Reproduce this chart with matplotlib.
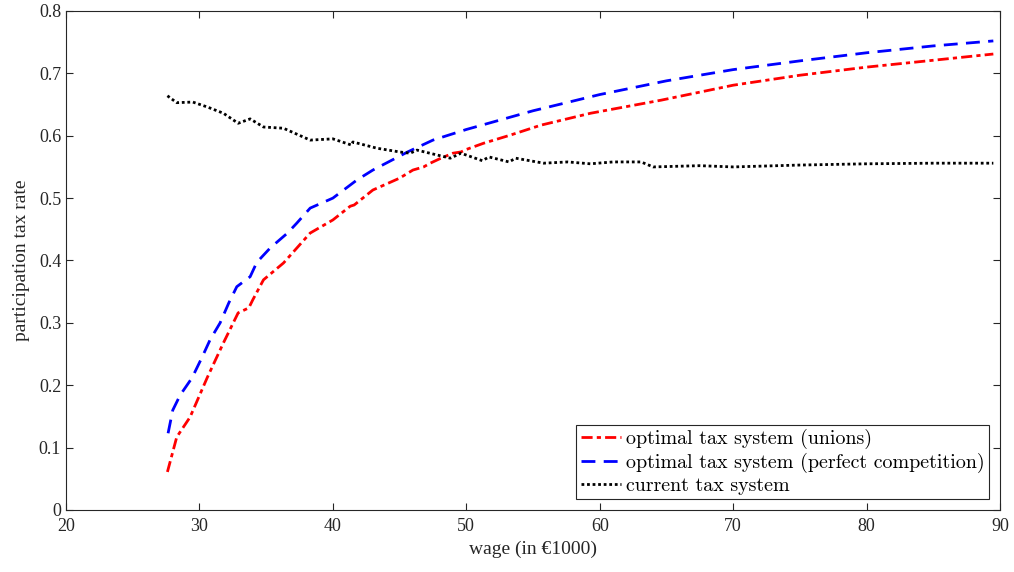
import numpy as np
import matplotlib.pyplot as plt

# wage (in 1000 euro) and participation tax rates
w_unions = [27.6, 28.3, 28.8, 29.3, 30.6, 31.8, 32.9, 33.7, 34.0, 34.8, 36.3, 38.3, 40.0,
            41.3, 41.6, 43.0, 45.0, 46.0, 46.8, 47.3, 48.1, 49.0, 49.6, 50.0, 51.3, 53.3,
            55.6, 59.3, 64.6, 70.0, 75.0, 80.0, 85.0, 89.5]
t_unions = [0.061, 0.117, 0.133, 0.149, 0.213, 0.268, 0.316, 0.324, 0.337, 0.369, 0.396,
            0.444, 0.465, 0.487, 0.489, 0.513, 0.532, 0.545, 0.550, 0.556, 0.564, 0.572,
            0.574, 0.578, 0.588, 0.601, 0.617, 0.636, 0.657, 0.681, 0.697, 0.710, 0.721,
            0.731]

w_perfect = [27.65, 28.0, 28.55, 29.45, 30.2, 30.8, 31.55, 32.2, 32.8, 33.8, 34.3, 35.3,
             36.6, 37.3, 38.3, 40.0, 41.8, 43.0, 45.6, 47.5, 50.0, 52.0, 55.0, 60.0, 65.0,
             70.0, 75.0, 80.0, 85.0, 89.5]
t_perfect = [0.123, 0.160, 0.184, 0.212, 0.245, 0.273, 0.300, 0.332, 0.358, 0.374, 0.397,
             0.420, 0.444, 0.460, 0.484, 0.500, 0.529, 0.545, 0.574, 0.593, 0.610, 0.622,
             0.640, 0.666, 0.688, 0.706, 0.720, 0.733, 0.744, 0.752]

w_current = [27.6, 28.3, 29.5, 30.6, 31.8, 32.9, 33.8, 34.8, 36.3, 38.3, 40.0, 41.4, 41.5,
             43.3, 45.0, 45.8, 46.3, 48.8, 49.6, 51.2, 51.7, 53.2, 53.7, 55.8, 57.6, 59.3,
             61.0, 63.1, 64.0, 67.5, 70.0, 75.0, 80.0, 85.0, 89.5]
t_current = [0.664, 0.653, 0.654, 0.646, 0.636, 0.620, 0.627, 0.614, 0.612, 0.593, 0.595,
             0.585, 0.590, 0.580, 0.574, 0.572, 0.577, 0.564, 0.572, 0.560, 0.566, 0.558,
             0.564, 0.556, 0.558, 0.555, 0.558, 0.558, 0.550, 0.552, 0.550, 0.553, 0.555,
             0.556, 0.556]

labels = ['optimal tax system (unions)',
          'optimal tax system (perfect competition)',
          'current tax system']

plt.rcParams['font.family'] = ['Liberation Serif', 'DejaVu Serif']
plt.rcParams['axes.edgecolor'] = '#262626'

fig = plt.figure(figsize=(10.14, 5.72), dpi=100)
ax = fig.add_axes([0.0651, 0.1084, 0.9211, 0.8724])

ax.plot(w_unions, t_unions, color='red', lw=2, ls=(0, (4, 1.5, 1.5, 1.5)), label=labels[0])
ax.plot(w_perfect, t_perfect, color='blue', lw=2, ls=(0, (5, 3)), label=labels[1])
ax.plot(w_current, t_current, color='black', lw=2, ls=(0, (1, 1)), label=labels[2])

ax.set_xlim(20, 90)
ax.set_ylim(0, 0.8)
ax.set_xticks(np.arange(20, 91, 10))
ax.set_yticks(np.arange(0, 0.81, 0.1))
ax.set_yticklabels(['0', '0.1', '0.2', '0.3', '0.4', '0.5', '0.6', '0.7', '0.8'])
ax.tick_params(direction='in', top=True, right=True, length=5, width=0.8,
               colors='#262626', labelsize=13, labelcolor='#262626')
ax.tick_params(axis='x', pad=6)

ax.set_xlabel('wage (in €1000)', fontsize=14, color='#262626', labelpad=4)
ax.set_ylabel('participation tax rate', fontsize=14, color='#262626', labelpad=6)

leg = ax.legend(loc='lower right', prop={'family': 'cmr10', 'size': 14.4},
                fancybox=False, edgecolor='#262626', framealpha=1,
                handlelength=2.0, handletextpad=0.25, borderaxespad=0.55,
                labelspacing=0.18, borderpad=0.22)
leg.get_frame().set_linewidth(0.8)

fig.savefig('out.png', dpi=100)
